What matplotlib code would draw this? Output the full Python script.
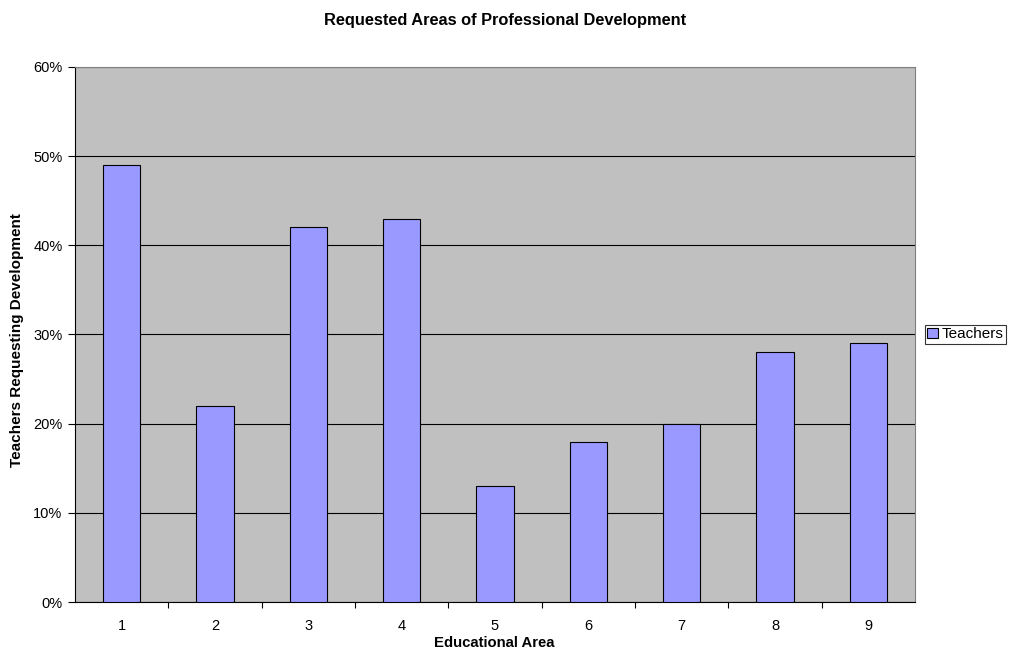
import matplotlib
matplotlib.use('Agg')
import matplotlib.pyplot as plt
from matplotlib.ticker import PercentFormatter, FixedLocator
import numpy as np

plt.rcParams['font.family'] = ['Liberation Sans', 'DejaVu Sans']

areas = ['1', '2', '3', '4', '5', '6', '7', '8', '9']
teachers = [49, 22, 42, 43, 13, 18, 20, 28, 29]

fig = plt.figure(figsize=(10.11, 6.5), dpi=100)
ax = fig.add_axes([0.0742, 0.0738, 0.8308, 0.8232])

x = np.arange(len(areas)) + 1
ax.bar(x, teachers, width=0.4, color='#9999FF', edgecolor='black', linewidth=0.8,
       label='Teachers', zorder=3)

ax.set_facecolor('#C0C0C0')
ax.set_xlim(0.5, 9.5)
ax.set_ylim(0, 60)
ax.set_yticks(range(0, 61, 10))
ax.yaxis.set_major_formatter(PercentFormatter(decimals=0))
ax.grid(axis='y', color='black', linewidth=0.8, zorder=0)

# category labels centred, tick marks between categories
ax.set_xticks(x)
ax.set_xticklabels(areas)
ax.tick_params(axis='x', which='major', length=0, pad=12)
ax.xaxis.set_minor_locator(FixedLocator(np.arange(1.5, 9.5, 1)))
ax.tick_params(axis='x', which='minor', length=4, direction='out', width=0.8)
ax.tick_params(axis='y', length=5, direction='out', width=0.8, pad=4)
ax.tick_params(labelsize=10.5)

for side in ['top', 'right']:
    ax.spines[side].set_color('#808080')
for side in ['left', 'bottom']:
    ax.spines[side].set_color('black')

fig.text(0.5, 0.969, 'Requested Areas of Professional Development', fontsize=11.8,
         fontweight='bold', ha='center', va='center')
fig.text(0.489, 0.011, 'Educational Area', fontsize=10.7, fontweight='bold',
         ha='center', va='center')
fig.text(0.017, 0.477, 'Teachers Requesting Development', fontsize=11, fontweight='bold',
         rotation=90, ha='center', va='center')

leg = ax.legend(loc='center left', bbox_to_anchor=(1.003, 0.5), fontsize=11,
                frameon=True, fancybox=False, edgecolor='black', borderpad=0.15,
                handlelength=0.7, handleheight=0.7, handletextpad=0.25)
leg.get_frame().set_linewidth(0.8)

fig.savefig('out.png', dpi=100)
